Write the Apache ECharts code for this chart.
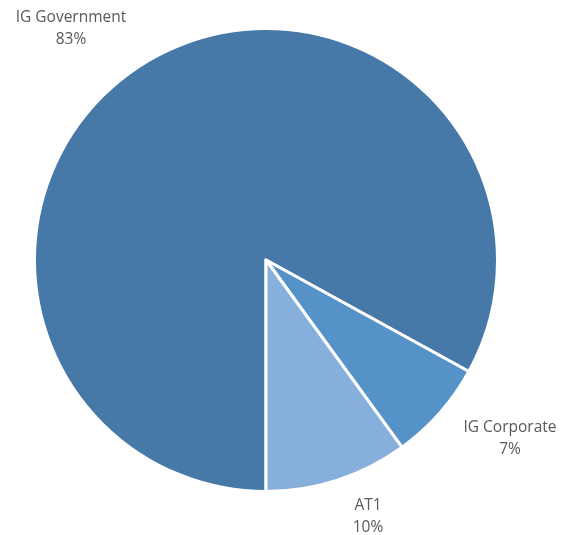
<!DOCTYPE html>
<html>
<head>
<meta charset="utf-8">
<script src="https://cdn.jsdelivr.net/npm/echarts@6/dist/echarts.min.js"></script>
<style>html,body{margin:0;padding:0;background:#fff}#c{width:574px;height:535px}</style>
</head>
<body>
<div id="c"></div>
<script>
var categories = ['IG Government', 'IG Corporate', 'AT1'];
var values = [83, 7, 10];
var colors = ['#4679A8', '#5592C8', '#87AFDC'];
var labelPos = [[71, 29], [510, 439], [368, 517]];

var chart = echarts.init(document.getElementById('c'), null, {renderer: 'canvas'});
chart.setOption({
  animation: false,
  series: [{
    type: 'pie',
    center: [266, 260],
    radius: [0, 231.5],
    startAngle: -90,
    clockwise: true,
    data: categories.map(function (n, i) {
      return {name: n, value: values[i], itemStyle: {color: colors[i]}};
    }),
    itemStyle: {borderColor: '#fff', borderWidth: 3},
    label: {
      show: true,
      position: 'outside',
      formatter: '{b}\n{d}%',
      fontFamily: 'Open Sans',
      fontSize: 15.5,
      lineHeight: 22,
      color: '#595959',
      align: 'center',
      overflow: 'none',
      width: 200
    },
    labelLine: {show: false},
    labelLayout: function (p) {
      var q = labelPos[p.dataIndex];
      return {x: q[0], y: q[1], align: 'center', verticalAlign: 'middle', hideOverlap: false};
    },
    emphasis: {disabled: true}
  }]
});
</script>
</body>
</html>
